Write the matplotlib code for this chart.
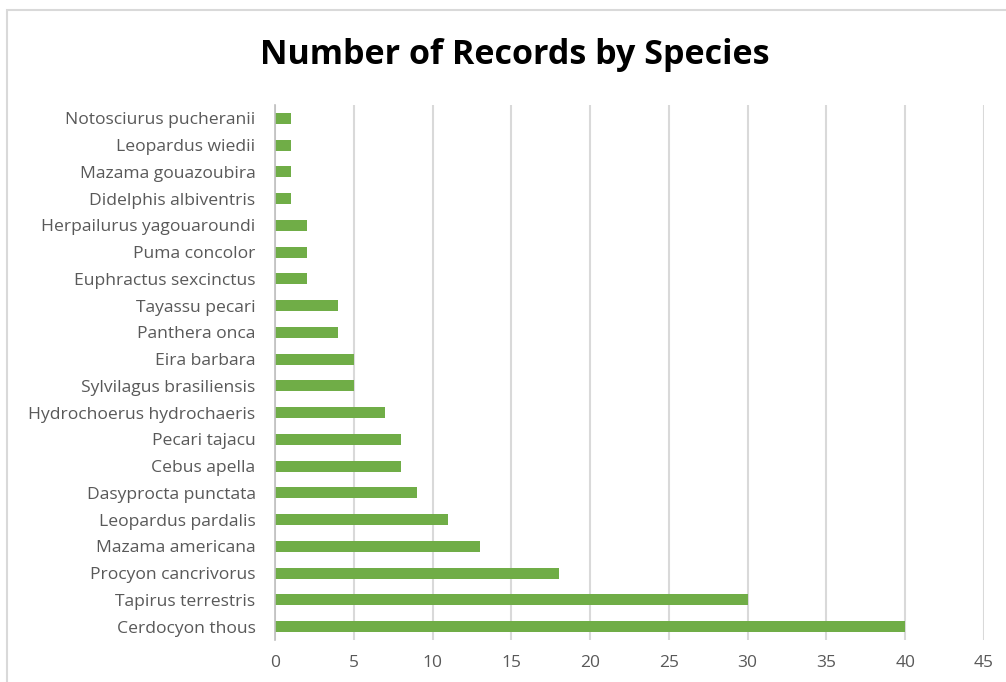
import matplotlib.pyplot as plt
from matplotlib.patches import Rectangle

species = [
    "Cerdocyon thous", "Tapirus terrestris", "Procyon cancrivorus",
    "Mazama americana", "Leopardus pardalis", "Dasyprocta punctata",
    "Cebus apella", "Pecari tajacu", "Hydrochoerus hydrochaeris",
    "Sylvilagus brasiliensis", "Eira barbara", "Panthera onca",
    "Tayassu pecari", "Euphractus sexcinctus", "Puma concolor",
    "Herpailurus yagouaroundi", "Didelphis albiventris",
    "Mazama gouazoubira", "Leopardus wiedii", "Notosciurus pucheranii",
]
records = [40, 30, 18, 13, 11, 9, 8, 8, 7, 5, 5, 4, 4, 2, 2, 2, 1, 1, 1, 1]
x_ticks = [0, 5, 10, 15, 20, 25, 30, 35, 40, 45]

plt.rcParams['font.family'] = ['Open Sans', 'DejaVu Sans']

fig = plt.figure(figsize=(10.06, 6.82), dpi=100)
fig.patch.set_facecolor('white')

# chart frame
fig.patches.append(Rectangle((7 / 1006, -0.05), 1.1, 1 - 10 / 682 + 0.05,
                             transform=fig.transFigure, fill=False,
                             edgecolor='#D9D9D9', linewidth=1.5))

ax = fig.add_axes([275 / 1006, 42 / 682, 709 / 1006, 535 / 682])
y = list(range(len(species)))
ax.barh(y, records, height=0.42, color='#70AD47', zorder=3)

ax.set_xlim(0, 45)
ax.set_ylim(-0.5, len(species) - 0.5)
ax.set_xticks(x_ticks)
ax.set_xticklabels([str(t) for t in x_ticks])
ax.set_yticks(y)
ax.set_yticklabels(species)

ax.grid(axis='x', color='#D9D9D9', linewidth=1.5, zorder=0)
ax.grid(axis='y', visible=False)
for side in ['top', 'right', 'bottom']:
    ax.spines[side].set_visible(False)
ax.spines['left'].set_color('#BFBFBF')
ax.spines['left'].set_linewidth(1.2)
ax.spines['left'].set_zorder(4)

ax.tick_params(axis='both', length=0, labelcolor='#595959')
ax.tick_params(axis='y', pad=14, labelsize=12.6)
ax.tick_params(axis='x', pad=11, labelsize=12.5)

fig.text(515 / 1006, 1 - 55 / 682, "Number of Records by Species",
         ha='center', va='center', fontsize=24.5, fontweight='bold',
         color='black')

fig.savefig('out.png', dpi=100)
